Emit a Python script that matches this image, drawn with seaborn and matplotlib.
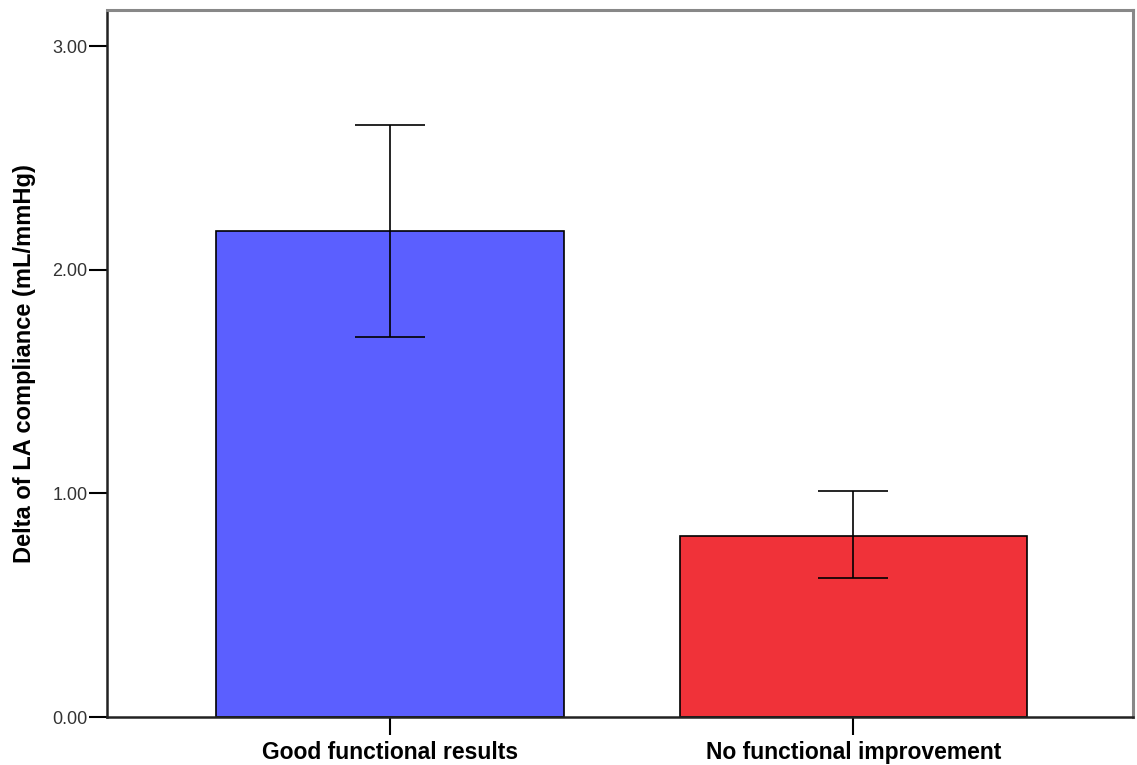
import matplotlib
matplotlib.use("Agg")
import matplotlib.pyplot as plt
import seaborn as sns
import pandas as pd
import numpy as np

categories = ["Good functional results", "No functional improvement"]
means = [2.175, 0.81]
ci_low = [1.70, 0.62]
ci_high = [2.65, 1.01]
bar_colors = ["#5B5FFF", "#F03239"]
y_ticks = [0.0, 1.0, 2.0, 3.0]
y_label = "Delta of LA compliance (mL/mmHg)"

sns.set_theme(style="white")
plt.rcParams['font.family'] = ['Liberation Sans', 'DejaVu Sans']

df = pd.DataFrame({"group": categories, "value": means})

fig = plt.figure(figsize=(11.37, 7.65), dpi=100)
ax = fig.add_axes([107/1137, 1 - 717/765, (1133-107)/1137, (717-10)/765])

sns.barplot(data=df, x="group", y="value", hue="group", palette=bar_colors,
            width=0.75, edgecolor="black", linewidth=1.2, errorbar=None,
            legend=False, ax=ax, saturation=1)

pos = np.arange(len(categories))
m = np.array(means)
yerr = np.vstack([m - np.array(ci_low), np.array(ci_high) - m])
ax.errorbar(pos, m, yerr=yerr, fmt="none", ecolor="black", elinewidth=1.2,
            capsize=25.5, capthick=1.2)

ax.set_xlim(-0.61, 1.603)
ax.set_ylim(0, 3.163)
ax.set_yticks(y_ticks)
ax.set_yticklabels([f"{v:.2f}" for v in y_ticks], fontsize=13, color="#333333")
ax.set_xlabel("")
ax.set_ylabel(y_label, fontsize=17, fontweight="bold", color="black", labelpad=12)
for lbl in ax.get_xticklabels():
    lbl.set_fontsize(16.5)
    lbl.set_fontweight("bold")
    lbl.set_color("black")
ax.tick_params(axis="x", bottom=True, length=13, width=1.5, color="black", pad=4)
ax.tick_params(axis="y", left=True, length=13, width=1.5, color="black", pad=1)

for s in ["left", "bottom"]:
    ax.spines[s].set_color("#222222")
    ax.spines[s].set_linewidth(1.8)
for s in ["top", "right"]:
    ax.spines[s].set_color("#888888")
    ax.spines[s].set_linewidth(2.2)

fig.savefig("out.png", dpi=100)
